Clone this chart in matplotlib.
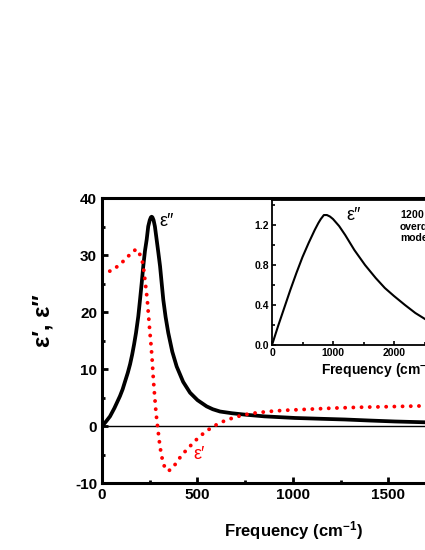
import matplotlib
matplotlib.use("Agg")
import matplotlib.pyplot as plt
from matplotlib.ticker import MultipleLocator

plt.rcParams['font.family'] = ['Liberation Sans', 'DejaVu Sans']
plt.rcParams['font.weight'] = 'bold'
plt.rcParams['axes.unicode_minus'] = False
plt.rcParams['mathtext.fontset'] = 'custom'
plt.rcParams['mathtext.rm'] = 'Liberation Sans:bold'
plt.rcParams['mathtext.bf'] = 'Liberation Sans:bold'
plt.rcParams['mathtext.default'] = 'bf'

# main panel: eps'' (black)
freq_e2 = [0, 20, 42, 65, 94, 108, 120, 135, 147, 158, 168, 178, 190, 199,
           208, 216, 225, 234, 242, 250, 256, 260, 264, 270, 277, 286, 295,
           304, 312, 321, 333, 347, 368, 391, 425, 461, 500, 548, 580, 618,
           680, 749, 850, 1010, 1150, 1272, 1400, 1534, 1700, 2000]
eps2 = [0.0, 0.8, 1.75, 3.2, 5.3, 6.5, 7.8, 9.4, 10.9, 12.6, 14.4, 16.4,
        19.3, 22.2, 25.2, 28.1, 30.8, 32.8, 35.1, 36.2, 36.7, 36.8, 36.7,
        36.2, 35.1, 32.8, 30.5, 28.1, 25.3, 22.2, 19.2, 16.4, 13.1, 10.5,
        7.8, 5.9, 4.6, 3.5, 3.0, 2.6, 2.3, 2.05, 1.75, 1.47, 1.32, 1.2, 1.02,
        0.85, 0.7, 0.5]

# main panel: eps' (red dotted)
freq_e1 = [0, 30, 59, 85, 112, 135, 155, 168, 178, 190, 199, 206, 213, 219,
           225, 231, 237, 244, 251, 255, 262, 269, 276, 283, 292, 300, 309,
           320, 333, 348, 365, 385, 408, 430, 452, 478, 504, 540, 583, 630,
           687, 740, 792, 870, 949, 1080, 1211, 1350, 1500, 1700, 2000]
eps1 = [26.8, 27.1, 27.5, 28.2, 29.0, 29.8, 30.4, 30.8, 31.1, 30.8, 30.1,
        29.5, 28.7, 27.4, 25.7, 24.0, 22.2, 19.3, 16.4, 15.0, 12.0, 8.2, 5.2,
        2.3, -0.3, -2.6, -4.7, -6.4, -7.6, -7.8, -7.5, -6.6, -5.5, -4.6, -3.8,
        -2.9, -2.0, -1.0, 0.0, 0.8, 1.5, 2.0, 2.3, 2.6, 2.8, 3.0, 3.2, 3.35,
        3.45, 3.6, 3.7]

# inset: 1200 cm-1 overdamped mode, eps''
freq_in = [0, 100, 200, 300, 400, 500, 600, 700, 760, 800, 850, 900, 950,
           1000, 1100, 1200, 1350, 1525, 1700, 1850, 2000, 2180, 2350, 2508,
           2600]
eps2_in = [0.0, 0.19, 0.37, 0.55, 0.72, 0.88, 1.02, 1.15, 1.22, 1.26, 1.30,
           1.30, 1.285, 1.26, 1.19, 1.10, 0.95, 0.80, 0.67, 0.57, 0.49, 0.40,
           0.32, 0.26, 0.23]

fig = plt.figure(figsize=(4.25, 5.5), dpi=100)
ax = fig.add_axes([0.240, 0.1213, 0.8988, 0.5178])

ax.axhline(0, color='black', lw=1.0)
ax.plot(freq_e2, eps2, color='black', lw=2.7, solid_joinstyle='round')
ax.plot(freq_e1, eps1, color='#ff0000', lw=2.8, linestyle=(0, (0.01, 2.1)),
        dash_capstyle='round')

ax.set_xlim(0, 2000)
ax.set_ylim(-10, 40)
ax.xaxis.set_major_locator(MultipleLocator(500))
ax.xaxis.set_minor_locator(MultipleLocator(250))
ax.yaxis.set_major_locator(MultipleLocator(10))
ax.yaxis.set_minor_locator(MultipleLocator(5))
ax.tick_params(which='both', direction='in', width=2, labelsize=11)
ax.tick_params(which='major', length=4)
ax.tick_params(which='minor', length=2)
for s in ax.spines.values():
    s.set_linewidth(2.2)

ax.set_xlabel("Frequency (cm$^{-1}$)", fontsize=12, fontweight='bold', labelpad=12)
ax.set_ylabel("ε\u2032, ε\u2033", fontsize=17, fontweight='bold')
ax.yaxis.set_label_coords(-0.125, 0.57)

ax.text(300, 35.9, "ε\u2033", fontsize=13, fontweight='normal', va='center', ha='left')
ax.text(476, -5.0, "ε\u2032", fontsize=13, fontweight='normal', color='#ff0000',
        va='center', ha='left')

# inset
axi = fig.add_axes([0.640, 0.3727, 0.5024, 0.2636])
axi.set_facecolor('white')
axi.plot(freq_in, eps2_in, color='black', lw=1.5)
axi.set_xlim(0, 3500)
axi.set_ylim(0, 1.45)
axi.xaxis.set_major_locator(MultipleLocator(1000))
axi.xaxis.set_minor_locator(MultipleLocator(500))
axi.yaxis.set_major_locator(MultipleLocator(0.4))
axi.yaxis.set_minor_locator(MultipleLocator(0.2))
axi.yaxis.set_major_formatter(plt.FormatStrFormatter('%.1f'))
axi.tick_params(which='both', direction='in', width=1.2, labelsize=7.5, pad=2)
axi.tick_params(which='major', length=3)
axi.tick_params(which='minor', length=2)
for s in axi.spines.values():
    s.set_linewidth(1.3)
axi.set_xlabel("Frequency (cm$^{-1}$)", fontsize=10, fontweight='bold', labelpad=1)
axi.text(1224, 1.30, "ε\u2033", fontsize=13, fontweight='normal', va='center', ha='left')
axi.text(2098, 1.38, "1200 cm$^{-1}$\noverdamped\nmode", fontsize=7.5,
         fontweight='bold', va='top', ha='left', linespacing=1.15)

fig.savefig("out.png", dpi=100)
